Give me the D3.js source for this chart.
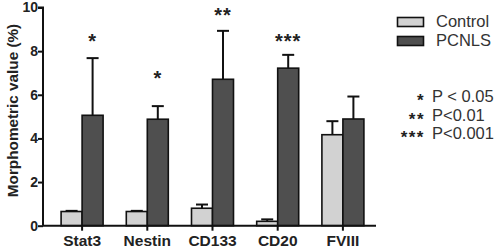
<!DOCTYPE html>
<html><head><meta charset="utf-8">
<script src="https://cdn.jsdelivr.net/npm/d3@7"></script>
<style>
html,body{margin:0;padding:0;background:#fff;}
svg{display:block;font-family:Arial,"Liberation Sans",sans-serif;}
</style></head>
<body><svg id="c" width="500" height="249"></svg>
<script>
const categories = ["Stat3","Nestin","CD133","CD20","FVIII"];
const control    = [0.65, 0.65, 0.80, 0.20, 4.17];
const controlErr = [0.03, 0.03, 0.17, 0.09, 0.62];
const pcnls      = [5.06, 4.88, 6.71, 7.22, 4.89];
const pcnlsErr   = [2.62, 0.60, 2.22, 0.61, 1.03];
const sigMarks   = ["*","*","**","***",""];
const sigLevel   = [8.55, 6.85, 9.75, 8.55, 0];
const yTicks     = [0,2,4,6,8,10];
const seriesNames = ["Control","PCNLS"];
const pLegend = [["*","P < 0.05"],["**","P<0.01"],["***","P<0.001"]];

const colors = ["#d2d2d2","#4f4f4f"];
const svg = d3.select("#c");
const y = d3.scaleLinear().domain([0,10]).range([225.7,7.5]);
const x = d3.scaleBand().domain(categories).range([49.5,375.5]);
const bw = 21;
const axisX0 = 43, axisX1 = 376;

// bars
const series = [
  {vals: control, errs: controlErr, off: -bw, col: colors[0]},
  {vals: pcnls, errs: pcnlsErr, off: 0, col: colors[1]}
];
series.forEach(s => {
  const g = svg.append("g");
  g.selectAll("line.e").data(categories).join("line")
    .attr("x1", (d,i)=>x(d)+x.bandwidth()/2+s.off+bw/2)
    .attr("x2", (d,i)=>x(d)+x.bandwidth()/2+s.off+bw/2)
    .attr("y1", (d,i)=>y(s.vals[i]))
    .attr("y2", (d,i)=>y(s.vals[i]+s.errs[i]))
    .attr("stroke","#111").attr("stroke-width",2);
  g.selectAll("line.c").data(categories).join("line")
    .attr("x1", (d,i)=>x(d)+x.bandwidth()/2+s.off+bw/2-6)
    .attr("x2", (d,i)=>x(d)+x.bandwidth()/2+s.off+bw/2+6)
    .attr("y1", (d,i)=>y(s.vals[i]+s.errs[i]))
    .attr("y2", (d,i)=>y(s.vals[i]+s.errs[i]))
    .attr("stroke","#111").attr("stroke-width",2);
  g.selectAll("rect").data(categories).join("rect")
    .attr("x", d=>x(d)+x.bandwidth()/2+s.off)
    .attr("width", bw)
    .attr("y", (d,i)=>y(s.vals[i]))
    .attr("height", (d,i)=>y(0)-y(s.vals[i]))
    .attr("fill", s.col).attr("stroke","#111").attr("stroke-width",1.6);
});

// significance
svg.selectAll("text.sig").data(categories).join("text")
  .attr("x", d=>x(d)+x.bandwidth()/2+bw/2)
  .attr("y", (d,i)=>y(sigLevel[i])+9)
  .attr("text-anchor","middle").attr("font-size",20).attr("font-weight","bold")
  .attr("letter-spacing",1)
  .attr("fill","#222")
  .text((d,i)=>sigMarks[i]);

// y axis
const yAxis = d3.axisLeft(y).tickValues(yTicks).tickSize(5).tickPadding(0).tickFormat(d3.format("d"));
const ga = svg.append("g").attr("transform",`translate(${axisX0},0)`).call(yAxis);
ga.select(".domain").attr("stroke","#111").attr("stroke-width",2).attr("d",`M-5,${y(10)}H0V${y(0)}`);
ga.selectAll(".tick line").attr("stroke","#111").attr("stroke-width",2);
ga.selectAll(".tick text").attr("font-size",14).attr("font-weight","bold").attr("fill","#222")
  .attr("font-family","Arial,'Liberation Sans',sans-serif");

// x axis
const xAxis = d3.axisBottom(x).tickSize(5).tickPadding(4);
const gx = svg.append("g").attr("transform",`translate(0,${y(0)})`).call(xAxis);
gx.select(".domain").attr("stroke","#111").attr("stroke-width",2).attr("d",`M${axisX0},0H${axisX1}`);
gx.selectAll(".tick line").attr("stroke","#111").attr("stroke-width",2);
gx.selectAll(".tick text").attr("font-size",15.5).attr("font-weight","bold").attr("fill","#222")
  .attr("font-family","Arial,'Liberation Sans',sans-serif");

// y label
svg.append("text").attr("transform",`translate(17.5,110.5) rotate(-90)`)
  .attr("text-anchor","middle").attr("font-size",15.3).attr("font-weight","bold").attr("fill","#222")
  .text("Morphometric value (%)");

// legend
seriesNames.forEach((n,i)=>{
  svg.append("rect").attr("x",397.5).attr("y",17.5+i*19).attr("width",26).attr("height",9)
    .attr("fill",colors[i]).attr("stroke","#111").attr("stroke-width",1.6);
  svg.append("text").attr("x",436).attr("y",26.5+i*19).attr("font-size",16.5).attr("fill","#333").text(n);
});
pLegend.forEach((p,i)=>{
  svg.append("text").attr("x",425).attr("y",106+i*18.5).attr("text-anchor","end")
    .attr("font-size",17).attr("font-weight","bold").attr("letter-spacing",1.5).attr("fill","#222").text(p[0]);
  svg.append("text").attr("x",432).attr("y",102+i*18.5).attr("font-size",16.5).attr("fill","#333").text(p[1]);
});
</script></body></html>
